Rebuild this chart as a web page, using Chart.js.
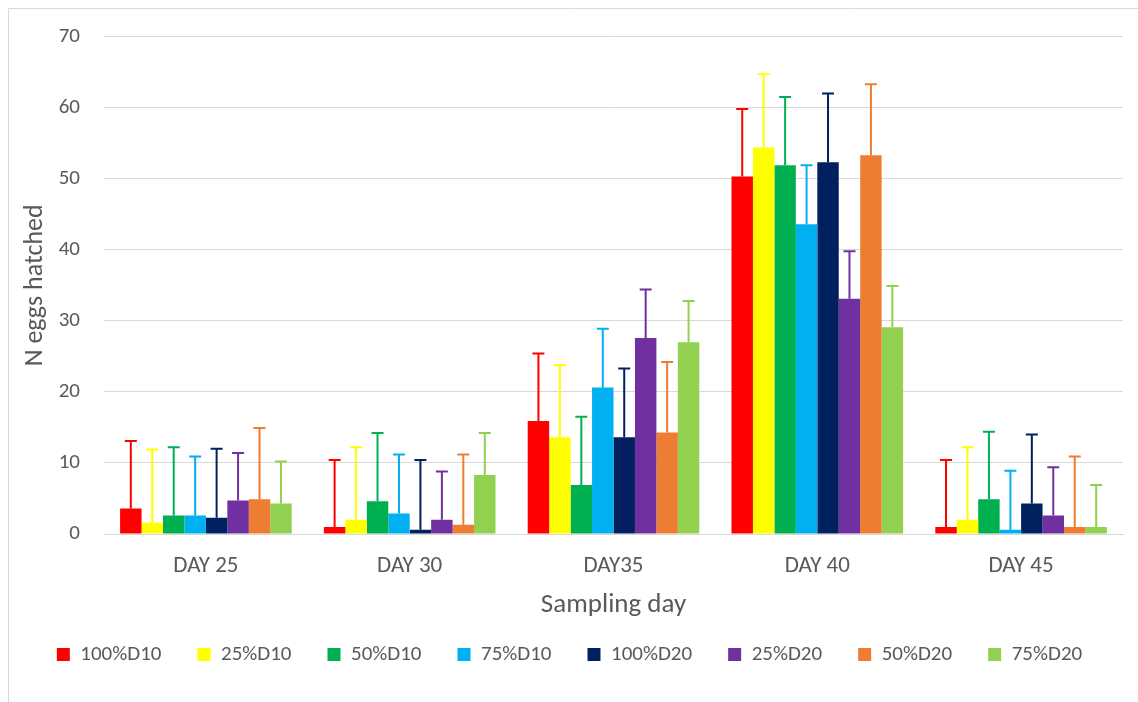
<!doctype html>
<html>

<head>
    <title>N eggs hatched</title>
    <script src="https://cdn.jsdelivr.net/npm/chart.js@4/dist/chart.umd.min.js"></script>
    <style>
    body {
        margin: 0;
        background: #ffffff;
    }
    #holder {
        width: 1138px;
        height: 702px;
    }
    </style>
</head>

<body>
    <div id="holder">
        <canvas id="chart-area"></canvas>
    </div>
    <script>
        // categories
        var days = ['DAY 25', 'DAY 30', 'DAY35', 'DAY 40', 'DAY 45'];

        // means per treatment (one value per sampling day)
        var d10_100 = [3.6, 1.0, 15.9, 50.3, 1.0];
        var d10_25 = [1.6, 2.0, 13.6, 54.4, 2.0];
        var d10_50 = [2.6, 4.6, 6.9, 51.9, 4.9];
        var d10_75 = [2.6, 2.9, 20.6, 43.6, 0.6];
        var d20_100 = [2.3, 0.6, 13.6, 52.3, 4.3];
        var d20_25 = [4.7, 2.0, 27.6, 33.1, 2.6];
        var d20_50 = [4.9, 1.3, 14.3, 53.3, 1.0];
        var d20_75 = [4.3, 8.3, 27.0, 29.1, 1.0];

        // upper error amounts
        var sd10_100 = [9.5, 9.4, 9.5, 9.5, 9.4];
        var sd10_25 = [10.3, 10.2, 10.2, 10.3, 10.2];
        var sd10_50 = [9.6, 9.6, 9.6, 9.6, 9.5];
        var sd10_75 = [8.3, 8.3, 8.3, 8.3, 8.3];
        var sd20_100 = [9.7, 9.8, 9.7, 9.7, 9.7];
        var sd20_25 = [6.7, 6.8, 6.8, 6.7, 6.8];
        var sd20_50 = [10.0, 9.9, 9.9, 10.0, 9.9];
        var sd20_75 = [5.9, 5.9, 5.8, 5.8, 5.9];

        var seriesNames = ['100%D10', '25%D10', '50%D10', '75%D10', '100%D20', '25%D20', '50%D20', '75%D20'];
        var seriesValues = [d10_100, d10_25, d10_50, d10_75, d20_100, d20_25, d20_50, d20_75];
        var seriesErrors = [sd10_100, sd10_25, sd10_50, sd10_75, sd20_100, sd20_25, sd20_50, sd20_75];
        var seriesColors = ['#FF0000', '#FFFF00', '#00B050', '#00B0F0', '#002060', '#7030A0', '#ED7D31', '#92D050'];

        // tick labels
        var yMin = 0, yMax = 70, yStep = 10;

        var textColor = '#595959';
        var fontFamily = 'Carlito, Lato, "Open Sans", sans-serif';

        var datasets = [];
        for (var i = 0; i < seriesNames.length; i++) {
            datasets.push({
                label: seriesNames[i],
                data: seriesValues[i],
                errors: seriesErrors[i],
                backgroundColor: seriesColors[i],
                borderWidth: 0,
                barPercentage: 1.0,
                categoryPercentage: 0.842
            });
        }

        // draws the one-sided (upper) error bars with caps
        var errorBars = {
            id: 'errorBars',
            afterDatasetsDraw: function(chart) {
                var ctx = chart.ctx;
                var yScale = chart.scales.y;
                ctx.save();
                chart.data.datasets.forEach(function(ds, di) {
                    var meta = chart.getDatasetMeta(di);
                    if (meta.hidden) return;
                    meta.data.forEach(function(bar, j) {
                        var top = yScale.getPixelForValue(ds.data[j] + ds.errors[j]);
                        var base = yScale.getPixelForValue(ds.data[j]);
                        ctx.strokeStyle = ds.backgroundColor;
                        ctx.lineWidth = 2;
                        ctx.beginPath();
                        ctx.moveTo(bar.x, base);
                        ctx.lineTo(bar.x, top);
                        ctx.moveTo(bar.x - 6, top);
                        ctx.lineTo(bar.x + 6, top);
                        ctx.stroke();
                    });
                });
                ctx.restore();
            }
        };

        // light frame like the spreadsheet chart area
        var frame = {
            id: 'frame',
            beforeDraw: function(chart) {
                var ctx = chart.ctx;
                ctx.save();
                ctx.fillStyle = '#ffffff';
                ctx.fillRect(0, 0, chart.width, chart.height);
                ctx.strokeStyle = '#d9d9d9';
                ctx.lineWidth = 1;
                ctx.beginPath();
                ctx.moveTo(8.5, chart.height);
                ctx.lineTo(8.5, 8.5);
                ctx.lineTo(chart.width, 8.5);
                ctx.stroke();
                ctx.restore();
            }
        };

        var config = {
            type: 'bar',
            data: {
                labels: days,
                datasets: datasets
            },
            plugins: [frame, errorBars],
            options: {
                responsive: true,
                maintainAspectRatio: false,
                animation: false,
                layout: {
                    padding: { left: 16, right: 15, top: 33, bottom: 27 }
                },
                plugins: {
                    legend: {
                        position: 'bottom',
                        labels: {
                            boxWidth: 13,
                            boxHeight: 13,
                            padding: 36,
                            color: textColor,
                            font: { family: fontFamily, size: 21 }
                        }
                    },
                    title: { display: false },
                    tooltip: { enabled: false }
                },
                scales: {
                    x: {
                        grid: { display: false, drawTicks: false },
                        border: { display: true, color: '#d9d9d9', width: 1 },
                        ticks: {
                            color: textColor,
                            padding: 18,
                            font: { family: fontFamily, size: 23 }
                        },
                        title: {
                            display: true,
                            text: 'Sampling day',
                            color: textColor,
                            padding: { top: 0, bottom: -10.5 },
                            font: { family: fontFamily, size: 27, lineHeight: 1 }
                        },
                        afterFit: function(scale) {
                            scale.height = 74;
                        }
                    },
                    y: {
                        min: yMin,
                        max: yMax,
                        grid: { color: '#d9d9d9', drawTicks: false },
                        border: { display: false },
                        ticks: {
                            stepSize: yStep,
                            color: textColor,
                            padding: 24,
                            font: { family: fontFamily, size: 21 }
                        },
                        title: {
                            display: true,
                            text: 'N eggs hatched',
                            color: textColor,
                            padding: { top: 4, bottom: 4 },
                            font: { family: fontFamily, size: 26 }
                        },
                        afterFit: function(scale) {
                            scale.width = 88;
                        }
                    }
                }
            }
        };

        window.onload = function() {
            var ctx = document.getElementById('chart-area').getContext('2d');
            window.myBar = new Chart(ctx, config);
        };
    </script>
</body>

</html>
